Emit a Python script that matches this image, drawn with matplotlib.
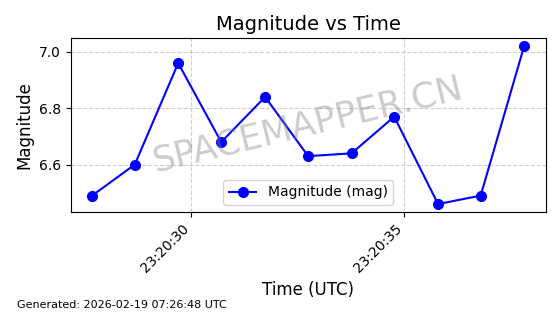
import matplotlib
matplotlib.use('Agg')
import matplotlib.pyplot as plt
import matplotlib.dates as mdates
import pandas as pd

# observation times (seconds after 23:20:00 UTC) and magnitudes
seconds = [27.67, 28.67, 29.69, 30.70, 31.73, 32.74, 33.76, 34.76, 35.79, 36.79, 37.81]
magnitudes = [6.49, 6.60, 6.96, 6.68, 6.84, 6.63, 6.64, 6.77, 6.46, 6.49, 7.02]

base = pd.Timestamp('2026-02-18 23:20:00')
times = [base + pd.Timedelta(seconds=s) for s in seconds]

fig, ax = plt.subplots(figsize=(5.6, 3.14), dpi=100)
fig.subplots_adjust(left=0.126, right=0.9745, top=0.878, bottom=0.325)

ax.plot(times, magnitudes, 'o-', color='blue', linewidth=1.5, markersize=7,
        label='Magnitude (mag)')

ax.set_title('Magnitude vs Time', fontsize=14)
ax.set_xlabel('Time (UTC)', fontsize=12)
ax.set_ylabel('Magnitude', fontsize=12)
ax.grid(True, linestyle='--', alpha=0.6)
ax.legend(loc='lower center', fontsize=10)

ax.xaxis.set_major_locator(mdates.SecondLocator(bysecond=range(0, 60, 5)))
ax.xaxis.set_major_formatter(mdates.DateFormatter('%H:%M:%S'))
plt.setp(ax.get_xticklabels(), rotation=45, ha='right')

ax.text(0.5, 0.505, 'SPACEMAPPER.CN', transform=ax.transAxes, fontsize=25.5,
        color='gray', alpha=0.4, rotation=13.5, ha='center', va='center')

fig.text(0.03, 0.02, 'Generated: 2026-02-19 07:26:48 UTC', fontsize=8)

plt.savefig('out.png', dpi=100)
